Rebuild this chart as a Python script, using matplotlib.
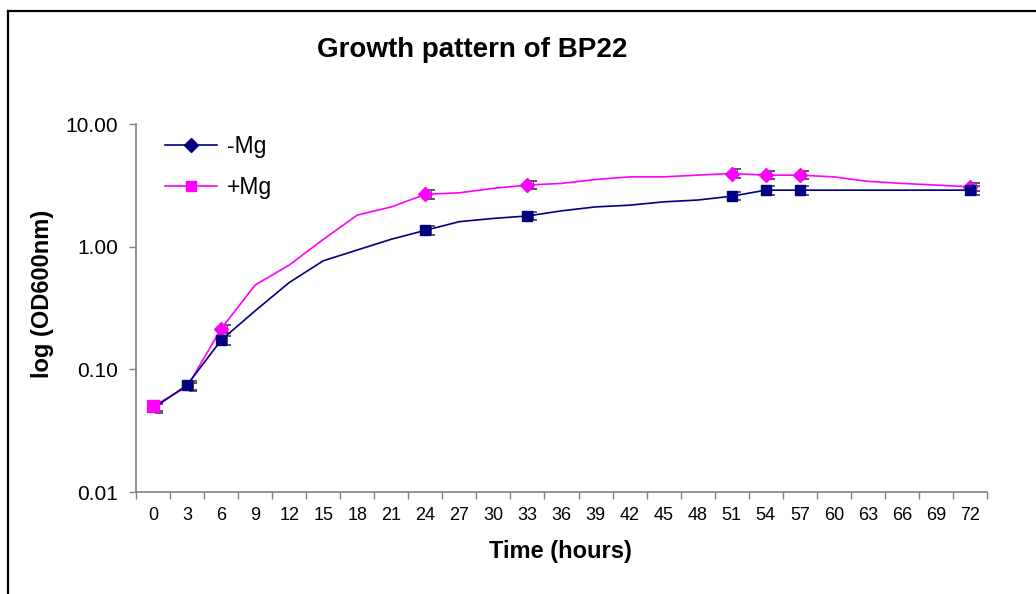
"""Growth pattern of BP22, with and without Mg."""

import matplotlib
matplotlib.use("Agg")
import matplotlib.pyplot as plt
import matplotlib.transforms as mtransforms
from matplotlib.lines import Line2D
from matplotlib.ticker import FixedLocator, FuncFormatter, NullLocator

plt.rcParams["font.family"] = ["Liberation Sans", "DejaVu Sans"]

hours = [0, 3, 6, 9, 12, 15, 18, 21, 24, 27, 30, 33, 36, 39, 42, 45, 48,
         51, 54, 57, 60, 63, 66, 69, 72]
od_minus_mg = [0.048, 0.0745, 0.173, 0.30, 0.51, 0.767, 0.94, 1.15, 1.36,
               1.60, 1.70, 1.78, 1.96, 2.11, 2.18, 2.32, 2.40, 2.58, 2.89,
               2.89, 2.89, 2.89, 2.89, 2.89, 2.89]
od_plus_mg = [0.050, 0.072, 0.214, 0.487, 0.708, 1.146, 1.81, 2.11, 2.67,
              2.75, 2.99, 3.18, 3.28, 3.53, 3.71, 3.71, 3.83, 3.95, 3.83,
              3.83, 3.71, 3.41, 3.28, 3.18, 3.08]

# hours that were actually measured (markers + error bars)
measured_hours = [0, 3, 6, 24, 33, 51, 54, 57, 72]
err_minus_mg = [0.004, 0.006, 0.014, 0.11, 0.14, 0.20, 0.23, 0.23, 0.23]
err_plus_mg = [0.004, 0.006, 0.017, 0.21, 0.25, 0.31, 0.30, 0.30, 0.25]

NAVY = "#000080"
MAGENTA = "#FF00FF"
AXIS_GRAY = "#808080"

fig = plt.figure(figsize=(10.36, 5.94), dpi=100)
ax = fig.add_axes([0.1313, 0.1717, 0.8214, 0.6195])

idx = list(range(len(hours)))
meas_idx = [hours.index(h) for h in measured_hours]
meas_minus = [od_minus_mg[i] for i in meas_idx]
meas_plus = [od_plus_mg[i] for i in meas_idx]

ax.plot(idx, od_plus_mg, color=MAGENTA, lw=1.2, zorder=2)
ax.plot(idx, od_minus_mg, color=NAVY, lw=1.2, zorder=3)

# error bars sit just to the right of the markers
shift = mtransforms.ScaledTranslation(4 / 72, 0, fig.dpi_scale_trans)
for vals, errs in ((meas_plus, err_plus_mg), (meas_minus, err_minus_mg)):
    ax.errorbar(meas_idx, vals, yerr=errs, fmt="none", ecolor="#404040",
                elinewidth=0.6, capsize=3, capthick=1.2, zorder=1.5,
                transform=ax.transData + shift)

# first point: magenta square over small navy diamond
ax.plot(meas_idx[:1], meas_minus[:1], ls="none", marker="D", ms=4,
        color=NAVY, zorder=4)
ax.plot(meas_idx[:1], meas_plus[:1], ls="none", marker="s", ms=8,
        color=MAGENTA, zorder=5)
ax.plot(meas_idx[2:], meas_plus[2:], ls="none", marker="D", ms=7,
        color=MAGENTA, zorder=4)
ax.plot(meas_idx[1:], meas_minus[1:], ls="none", marker="s", ms=7.5,
        color=NAVY, zorder=5)

ax.set_yscale("log")
ax.set_ylim(0.01, 10)
ax.yaxis.set_major_locator(FixedLocator([0.01, 0.1, 1, 10]))
ax.yaxis.set_minor_locator(NullLocator())
ax.yaxis.set_major_formatter(FuncFormatter(lambda v, _: f"{v:.2f}"))

ax.set_xlim(-0.5, len(hours) - 0.5)
ax.set_xticks(idx)
ax.set_xticklabels([str(h) for h in hours])
ax.set_xticks([i - 0.5 for i in range(len(hours) + 1)], minor=True)
ax.tick_params(axis="x", which="major", length=0, pad=11, labelsize=13)
ax.tick_params(axis="x", which="minor", length=5, width=1, color=AXIS_GRAY)
ax.tick_params(axis="y", which="major", length=5, width=1, color=AXIS_GRAY,
               labelsize=15, pad=8)

for side in ("top", "right"):
    ax.spines[side].set_visible(False)
for side in ("left", "bottom"):
    ax.spines[side].set_color(AXIS_GRAY)
    ax.spines[side].set_linewidth(1.2)

fig.text(0.456, 0.916, "Growth pattern of BP22", ha="center", va="center",
         fontsize=20, fontweight="bold")
fig.text(0.541, 0.072, "Time (hours)", ha="center", va="center",
         fontsize=17, fontweight="bold")
fig.text(0.041, 0.505, "log (OD600nm)", ha="center", va="center",
         rotation=90, fontsize=17, fontweight="bold")

handles = [
    Line2D([], [], color=NAVY, lw=1.2, marker="D", ms=7),
    Line2D([], [], color=MAGENTA, lw=1.2, marker="s", ms=7),
]
ax.legend(handles, ["-Mg", "+Mg"], loc="upper left",
          bbox_to_anchor=(0.159, 0.772), bbox_transform=fig.transFigure,
          frameon=False, fontsize=16.5, handlelength=2.3, handletextpad=0.4,
          labelspacing=0.75, borderpad=0, borderaxespad=0)

# chart-area border (left and top edges only are inside the picture)
fig.add_artist(Line2D([0.008, 0.008], [0.0, 0.981], color="black", lw=1.6,
                      transform=fig.transFigure))
fig.add_artist(Line2D([0.008, 1.0], [0.981, 0.981], color="black", lw=1.6,
                      transform=fig.transFigure))

fig.savefig("out.png", dpi=100)
